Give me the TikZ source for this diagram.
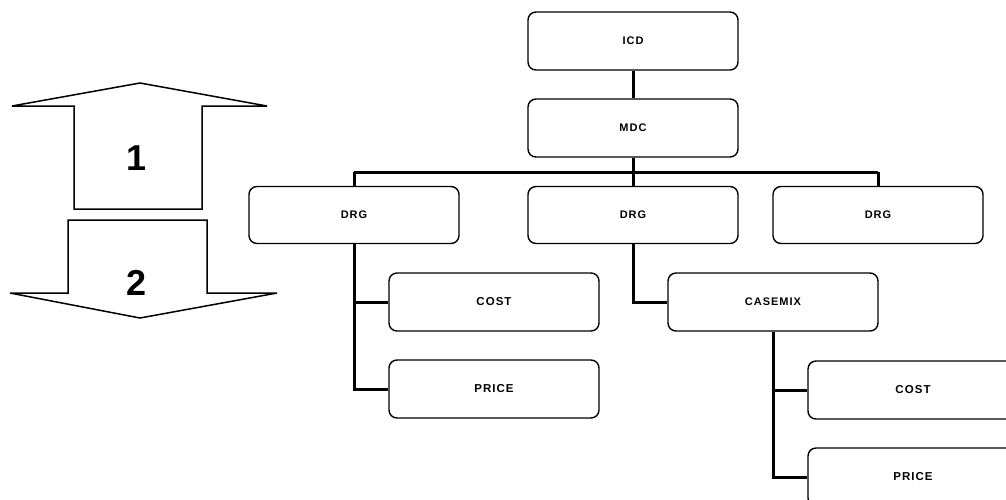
\documentclass[tikz,border=0pt]{standalone}
\usepackage{fontspec}
\setmainfont{Liberation Sans}
\newfontfamily\boxfont[LetterSpace=9]{Liberation Sans}
\begin{document}
\begin{tikzpicture}[x=1pt,y=-1pt,
  bx/.style={draw=black, line width=1.4pt, rounded corners=8pt, minimum width=210pt, minimum height=58pt, inner sep=0pt, font=\boxfont\bfseries\fontsize{11}{13}\selectfont},
  bxb/.style={bx, font=\boxfont\bfseries\fontsize{11.5}{13}\selectfont},
  conn/.style={draw=black, line width=3pt},
  bigarrow/.style={draw=black, line width=1.5pt, line join=miter, fill=white}]
\useasboundingbox (0,0) rectangle (1006,499);
\clip (0,0) rectangle (1006,499);
\fill[white] (0,0) rectangle (1006,499);
% arrows
\draw[bigarrow] (140,83) -- (267,106) -- (202,106) -- (202,209) -- (74,209) -- (74,106) -- (12,106) -- cycle;
\draw[bigarrow] (68,220) -- (207,220) -- (207,293) -- (277,293) -- (140,318) -- (10,293) -- (68,293) -- cycle;
\node[font=\bfseries\fontsize{36}{38}\selectfont] (one) at (137,158) {1};
\node[font=\bfseries\fontsize{36}{38}\selectfont] (two) at (137,283) {2};
% boxes
\node[bx] (icd) at (633,41) {ICD};
\node[bx] (mdc) at (633,128) {MDC};
\node[bx, minimum height=57pt] (drga) at (354,215) {DRG};
\node[bx, minimum height=57pt] (drgb) at (633,215) {DRG};
\node[bx, minimum height=57pt] (drgc) at (878,215) {DRG};
\node[bxb] (costa) at (494,302) {COST};
\node[bxb] (pricea) at (494,389) {PRICE};
\node[bx] (casemix) at (773,302) {CASEMIX};
\node[bxb] (costb) at (913,390) {COST};
\node[bxb] (priceb) at (913,477) {PRICE};
\coordinate (bus) at (0,172);
% connectors
\draw[conn] (icd) -- (mdc);
\draw[conn] (mdc.south) -- (mdc.south |- bus);
\draw[conn] (drga.north |- bus) -- (drgc.north |- bus);
\draw[conn] (drga.north |- bus) -- (drga.north);
\draw[conn] (drgb.north |- bus) -- (drgb.north);
\draw[conn] (drgc.north |- bus) -- (drgc.north);
\draw[conn] (drga.south) |- (pricea.west);
\draw[conn] (drga.south |- costa.west) -- (costa.west);
\draw[conn] (drgb.south) |- (casemix.west);
\draw[conn] (casemix.south) |- (priceb.west);
\draw[conn] (casemix.south |- costb.west) -- (costb.west);
\end{tikzpicture}
\end{document}
